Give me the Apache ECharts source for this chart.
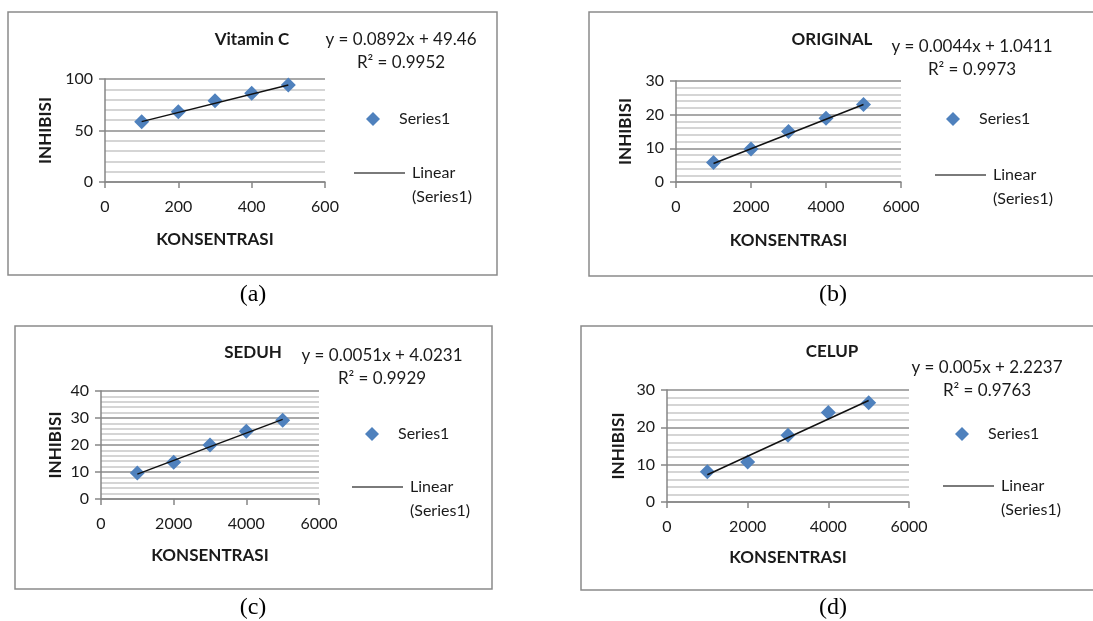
<!DOCTYPE html>
<html><head><meta charset="utf-8">
<script src="https://cdn.jsdelivr.net/npm/echarts@6/dist/echarts.min.js"></script>
<style>html,body{margin:0;padding:0;background:#fff}#c{width:1093px;height:621px}</style>
</head><body><div id="c"></div>
<script>
// ---------- data ----------
const konsentrasiA = [100, 200, 300, 400, 500];
const inhibisiA = [58.5, 68.3, 78.9, 86.1, 94.2];
const trendXA = [100, 500];
const trendYA = [58.6, 94.1];

const konsentrasiB = [1000, 2000, 3000, 4000, 5000];
const inhibisiB = [5.8, 9.8, 15.0, 18.9, 23.0];
const trendXB = [1000, 5000];
const trendYB = [5.5, 23.0];

const konsentrasiC = [1000, 2000, 3000, 4000, 5000];
const inhibisiC = [9.6, 13.6, 20.0, 25.1, 29.2];
const trendXC = [1000, 5000];
const trendYC = [9.2, 29.5];

const konsentrasiD = [1000, 2000, 3000, 4000, 5000];
const inhibisiD = [8.1, 10.7, 17.9, 24.0, 26.6];
const trendXD = [1000, 5000];
const trendYD = [7.3, 27.2];

const chartTitles = ['Vitamin C', 'ORIGINAL', 'SEDUH', 'CELUP'];
const equations = ['y = 0.0892x + 49.46', 'y = 0.0044x + 1.0411', 'y = 0.0051x + 4.0231', 'y = 0.005x + 2.2237'];
const rSquared = ['R² = 0.9952', 'R² = 0.9973', 'R² = 0.9929', 'R² = 0.9763'];
const captions = ['(a)', '(b)', '(c)', '(d)'];
const xMax = [600, 6000, 6000, 6000];
const xStep = [200, 2000, 2000, 2000];
const yMax = [100, 30, 40, 30];
const yStep = [50, 10, 10, 10];
const xAxisName = 'KONSENTRASI';
const yAxisName = 'INHIBISI';
const scatterName = 'Series1';
const trendName = 'Linear (Series1)';
const trendLegendLines = ['Linear', '(Series1)'];

const panels = [
  {k: konsentrasiA, v: inhibisiA, tx: trendXA, ty: trendYA},
  {k: konsentrasiB, v: inhibisiB, tx: trendXB, ty: trendYB},
  {k: konsentrasiC, v: inhibisiC, tx: trendXC, ty: trendYC},
  {k: konsentrasiD, v: inhibisiD, tx: trendXD, ty: trendYD}
];

// ---------- layout ----------
const L = [
  {grid: {left: 105, top: 79, width: 220, height: 103}, xGap: 49, yGap: 51,
   title: [252, 31], eq: [401, 28], leg1: [373, 119], leg2: [354, 173], cap: [253, 282]},
  {grid: {left: 676, top: 81, width: 225, height: 101}, xGap: 50, yGap: 42,
   title: [832, 31], eq: [972, 35], leg1: [953, 119], leg2: [935, 175], cap: [833, 282]},
  {grid: {left: 101, top: 391, width: 218, height: 108}, xGap: 48, yGap: 37,
   title: [253, 344], eq: [382, 344], leg1: [372, 434], leg2: [352, 487], cap: [253, 595]},
  {grid: {left: 667, top: 390, width: 242, height: 112}, xGap: 47, yGap: 40,
   title: [832, 343], eq: [987, 356], leg1: [962, 434], leg2: [943, 486], cap: [833, 595]}
];

const FONT = 'Lato';
const TXT = '#1a1a1a';
const AXIS = '#868686';
const MARK = '#4F81BD';

const option = {
  animation: false,
  backgroundColor: '#fff',
  grid: L.map(p => Object.assign({containLabel: false}, p.grid)),
  title: [],
  legend: [],
  xAxis: [],
  yAxis: [],
  series: [],
  graphic: [
    {type: 'rect', shape: {x: 8, y: 12, width: 489, height: 263}, style: {fill: 'none', stroke: '#8a8a8a', lineWidth: 1.5}},
    {type: 'polyline', shape: {points: [[1093, 12], [589, 12], [589, 276], [1093, 276]]}, style: {fill: 'none', stroke: '#8a8a8a', lineWidth: 1.5}},
    {type: 'rect', shape: {x: 15, y: 326, width: 477, height: 263}, style: {fill: 'none', stroke: '#8a8a8a', lineWidth: 1.5}},
    {type: 'polyline', shape: {points: [[1093, 326], [581, 326], [581, 590], [1093, 590]]}, style: {fill: 'none', stroke: '#8a8a8a', lineWidth: 1.5}}
  ]
};

panels.forEach((d, i) => {
  const p = L[i];
  option.xAxis.push({
    type: 'value', gridIndex: i, min: 0, max: xMax[i], interval: xStep[i],
    name: xAxisName, nameLocation: 'middle', nameGap: p.xGap,
    nameTextStyle: {fontFamily: FONT, fontWeight: 'bold', fontSize: 17, color: TXT},
    axisLine: {show: true, onZero: false, lineStyle: {color: AXIS, width: 1.5}},
    axisTick: {show: true, length: 6, lineStyle: {color: AXIS, width: 1.5}},
    axisLabel: {fontFamily: FONT, fontSize: 16, color: TXT, margin: 17, formatter: v => String(v)},
    splitLine: {show: false}
  });
  option.yAxis.push({
    type: 'value', gridIndex: i, min: 0, max: yMax[i], interval: yStep[i],
    name: yAxisName, nameLocation: 'middle', nameGap: p.yGap, nameRotate: 90,
    nameTextStyle: {fontFamily: FONT, fontWeight: 'bold', fontSize: 17, color: TXT},
    axisLine: {show: true, lineStyle: {color: AXIS, width: 1.5}},
    axisTick: {show: true, length: 6, lineStyle: {color: AXIS, width: 1.5}},
    axisLabel: {fontFamily: FONT, fontSize: 16, color: TXT, margin: 12, formatter: v => String(v)},
    splitLine: {show: true, lineStyle: {color: '#8c8c8c', width: 1.5}},
    minorTick: {show: false, splitNumber: 5},
    minorSplitLine: {show: true, lineStyle: {color: '#c8c8c8', width: 1.5}}
  });
  option.series.push({
    type: 'scatter', name: scatterName, xAxisIndex: i, yAxisIndex: i,
    symbol: 'diamond', symbolSize: 15,
    itemStyle: {color: MARK, opacity: 1},
    data: d.k.map((x, j) => [x, d.v[j]])
  });
  option.series.push({
    type: 'line', name: trendName, xAxisIndex: i, yAxisIndex: i,
    symbol: 'none', showSymbol: false,
    itemStyle: {color: '#7a7a7a'},
    lineStyle: {color: '#111', width: 1.5},
    data: d.tx.map((x, j) => [x, d.ty[j]])
  });
  option.title.push({
    text: chartTitles[i], left: p.title[0], top: p.title[1], textAlign: 'center', padding: 0,
    textStyle: {fontFamily: FONT, fontWeight: 'bold', fontSize: 17, color: TXT, lineHeight: 18}
  });
  option.title.push({
    text: equations[i] + '\n' + rSquared[i], left: p.eq[0], top: p.eq[1], textAlign: 'center', padding: 0,
    textStyle: {fontFamily: FONT, fontWeight: 'normal', fontSize: 17, color: TXT, lineHeight: 23}
  });
  option.title.push({
    text: captions[i], left: p.cap[0], top: p.cap[1], textAlign: 'center', padding: 0,
    textStyle: {fontFamily: 'Liberation Serif', fontWeight: 'normal', fontSize: 24, color: '#000', lineHeight: 26}
  });
  // legend: scatter item (icon center at leg1)
  option.legend.push({
    data: [{name: scatterName, icon: 'diamond'}], orient: 'vertical', selectedMode: false, padding: 0,
    left: p.leg1[0] - 7, top: p.leg1[1] - 10,
    itemWidth: 14, itemHeight: 14,
    itemStyle: {color: MARK},
    textStyle: {fontFamily: FONT, fontSize: 16, color: TXT, lineHeight: 20, padding: [0, 0, 0, 14]}
  });
  // legend: trendline item (line starts at leg2)
  option.legend.push({
    data: [{name: trendName, icon: 'rect'}], orient: 'vertical', selectedMode: false, padding: 0,
    left: p.leg2[0], top: p.leg2[1] - 36,
    itemWidth: 51, itemHeight: 2,
    itemStyle: {color: '#7a7a7a'},
    formatter: () => '\u00a0\n' + trendLegendLines.join('\n'),
    textStyle: {fontFamily: FONT, fontSize: 16, color: TXT, lineHeight: 24, padding: [0, 0, 0, 2]}
  });
});

const chart = echarts.init(document.getElementById('c'), null, {renderer: 'canvas'});
chart.setOption(option);
</script>
</body></html>
